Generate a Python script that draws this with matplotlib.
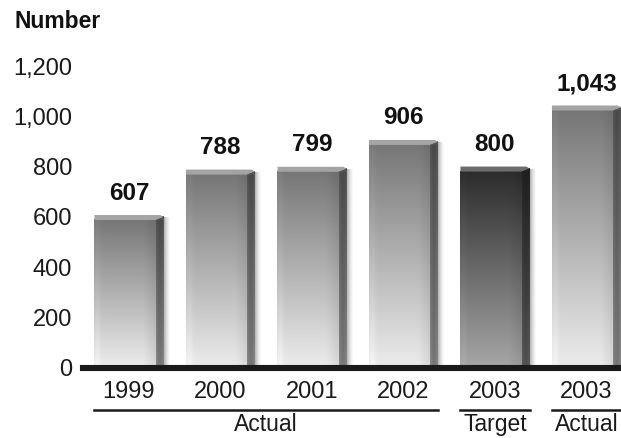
import numpy as np
import matplotlib
matplotlib.use("Agg")
import matplotlib.pyplot as plt
from matplotlib.colors import to_rgb

plt.rcParams["font.family"] = ["Liberation Sans", "DejaVu Sans"]

# data
years = ["1999", "2000", "2001", "2002", "2003", "2003"]
values = [607, 788, 799, 906, 800, 1043]
is_target = [False, False, False, False, True, False]
groups = [("Actual", 0, 3), ("Target", 4, 4), ("Actual", 5, 5)]
yticks = [0, 200, 400, 600, 800, 1000, 1200]
ytick_labels = ["0", "200", "400", "600", "800", "1,000", "1,200"]

W, H = 621, 438
fig = plt.figure(figsize=(W / 100, H / 100), dpi=100)
ax = fig.add_axes([83.25 / W, (H - 367.5) / H, 538 / W, 314 / H])

BAR_W = 0.755
SIDE = 0.085
BEVEL = 20
SHADOW = 0.075

# (body top, body bottom, side top, side bottom, bevel)
STYLE_ACTUAL = ("#767676", "#ececec", "#555555", "#8c8c8c", "#a4a4a4")
STYLE_TARGET = ("#2c2c2c", "#a6a6a6", "#222222", "#5e5e5e", "#6c6c6c")


def face(top, bottom, edge_dark=0.0, n=256, m=32):
    # vertical gradient, optionally darkened toward the middle of a side face
    t = np.linspace(0, 1, n)[:, None, None]
    a, b = np.array(to_rgb(top)), np.array(to_rgb(bottom))
    img = a * (1 - t) + b * t
    img = np.repeat(img, m, axis=1)
    s = np.linspace(0, 1, m)
    if edge_dark:
        k = 1 - edge_dark * np.sin(np.pi * s) ** 0.8
    else:
        # soft lighter band on the left edge, slightly darker on the right
        k = 1 + 0.05 * np.exp(-((s - 0.04) / 0.05) ** 2) - 0.08 * np.clip((s - 0.8) / 0.2, 0, 1)
    return np.clip(img * k[None, :, None], 0, 1)


def shadow_img(n=64):
    img = np.zeros((1, n, 4))
    img[..., 3] = np.linspace(0.55, 0.0, n) ** 1.6
    return img


x = np.arange(len(values))
for xi, v, tgt in zip(x, values, is_target):
    bt, bb, st, sb, bev = STYLE_TARGET if tgt else STYLE_ACTUAL
    left, right = xi - BAR_W / 2, xi + BAR_W / 2
    # soft shadow on the right
    ax.imshow(shadow_img(), extent=[right - 0.01, right + SHADOW, 0, v - BEVEL * 0.6],
              aspect="auto", zorder=1, interpolation="bilinear")
    # front face
    ax.imshow(face(bt, bb), extent=[left, right - SIDE, 0, v - BEVEL],
              aspect="auto", zorder=2, interpolation="bilinear")
    # darker right face
    ax.imshow(face(st, sb, edge_dark=0.15), extent=[right - SIDE, right, 0, v - BEVEL * 0.4],
              aspect="auto", zorder=2, interpolation="bilinear")
    # top bevel
    ax.fill([left, right - SIDE * 0.4, right, right - SIDE, left],
            [v, v, v - BEVEL * 0.4, v - BEVEL, v - BEVEL],
            color=bev, lw=0, zorder=3)
    ax.fill([right - SIDE, right, right, right - SIDE],
            [v - BEVEL, v - BEVEL * 0.4, v - BEVEL * 0.9, v - BEVEL * 1.2],
            color=st, lw=0, zorder=3)
    ax.annotate(f"{v:,}", (xi, v), xytext=(0, 7.5), textcoords="offset points",
                ha="center", va="bottom", fontsize=17.5, fontweight="bold",
                color="#111111")

ax.set_xlim(-0.5, 5.38)
ax.set_ylim(0, 1250)
ax.axhline(0, color="#1a1a1a", lw=4.4, zorder=5, clip_on=False)
for s in ax.spines.values():
    s.set_visible(False)

ax.set_yticks(yticks, ytick_labels)
ax.set_xticks(x, years)
ax.tick_params(axis="y", length=0, pad=8, labelsize=17, labelcolor="#1a1a1a")
ax.tick_params(axis="x", length=0, pad=9.5, labelsize=17, labelcolor="#1a1a1a")

# group brackets under the year labels
tr = ax.get_xaxis_transform()
for name, i0, i1 in groups:
    x0, x1 = i0 - 0.38, i1 + 0.38
    ax.plot([x0, x1], [-0.1354, -0.1354], color="#1a1a1a", lw=1.8,
            transform=tr, clip_on=False)
    ax.text((i0 + i1) / 2, -0.183, name, transform=tr, ha="center", va="center",
            fontsize=16.5, color="#1a1a1a")

fig.text(14 / W, 1 - 22 / H, "Number", ha="left", va="center",
         fontsize=16.5, fontweight="bold", color="#111111")

fig.savefig("out.png", dpi=100)
